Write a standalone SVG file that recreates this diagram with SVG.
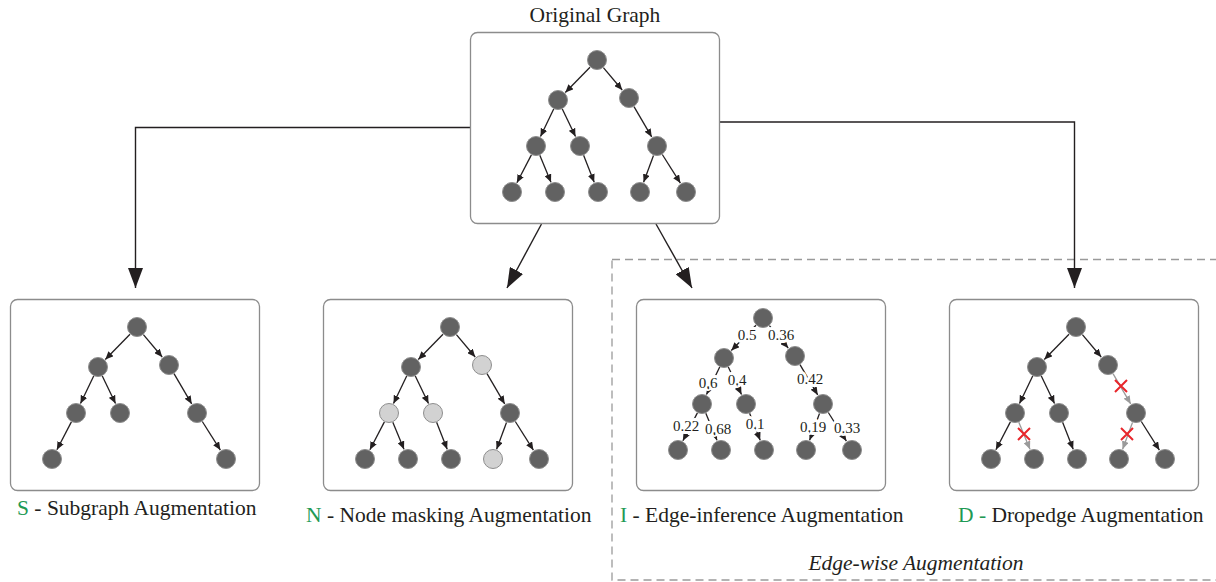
<svg xmlns="http://www.w3.org/2000/svg" width="1216" height="582" viewBox="0 0 1216 582">
<style>
.box{fill:#fff;stroke:#8c8c8c;stroke-width:1.3}
.n{fill:#626262;stroke:#8e8e8e;stroke-width:1}
.m{fill:#d2d2d2;stroke:#8e8e8e;stroke-width:1}
.e path{stroke:#231f20;stroke-width:1.3;fill:none;marker-end:url(#ah)}
.e path.g{stroke:#9a9a9a;marker-end:url(#ahg)}
.c{stroke:#231f20;stroke-width:1.4;fill:none;marker-end:url(#big)}
.x{stroke:#e8262b;stroke-width:2;fill:none}
.t{font-family:"Liberation Serif",serif;font-size:21.5px;fill:#231f20}
.gr{fill:#1f9a55}
.w{font-family:"Liberation Serif",serif;font-size:15px;fill:#231f20;stroke:#fff;stroke-width:6;paint-order:stroke;stroke-linejoin:round}
</style>
<defs>
<marker id="ah" markerUnits="userSpaceOnUse" markerWidth="9" markerHeight="7" refX="8" refY="3.5" orient="auto"><path d="M0,0 L8,3.5 L0,7 z" fill="#231f20"/></marker>
<marker id="ahg" markerUnits="userSpaceOnUse" markerWidth="9" markerHeight="7" refX="8" refY="3.5" orient="auto"><path d="M0,0 L8,3.5 L0,7 z" fill="#9a9a9a"/></marker>
<marker id="big" markerUnits="userSpaceOnUse" markerWidth="21" markerHeight="15" refX="20" refY="7.5" orient="auto"><path d="M0,0 L20,7.5 L0,15 z" fill="#231f20"/></marker>
</defs>

<rect x="612" y="259.5" width="620" height="320.5" fill="none" stroke="#9a9a9a" stroke-width="1.3" stroke-dasharray="8 5"/>
<text class="t" x="916" y="570" text-anchor="middle" font-style="italic" font-size="19.5">Edge-wise Augmentation</text>

<g id="connectors">
<polyline class="c" points="470,127.5 135.5,127.5 135.5,288"/>
<line class="c" x1="541.5" y1="224" x2="507" y2="288"/>
<line class="c" x1="656" y1="224" x2="692" y2="288"/>
<polyline class="c" points="720,122 1074.5,122 1074.5,288"/>
</g>

<g id="original">
<text class="t" x="595" y="22" text-anchor="middle">Original Graph</text>
<rect class="box" x="470.5" y="32.5" width="249" height="191" rx="7"/>
<g transform="translate(470,32)">
<g class="e">
<path d="M120,35.2L95.3,60.5"/><path d="M133.4,35.6L152.2,58"/><path d="M83.7,77L70.5,104.5"/><path d="M92.3,77L105.5,104.5"/><path d="M164,74.6L181.7,104.9"/><path d="M61.4,122.9L46.9,150.7"/><path d="M69.8,123.2L81,150.3"/><path d="M113.6,123.3L124.2,150.2"/><path d="M183.5,123.4L173.6,150.2"/><path d="M192.3,122.5L210.4,151.1"/>
</g>
<circle class="n" cx="127" cy="28" r="9.5"/><circle class="n" cx="88" cy="68" r="9.5"/><circle class="n" cx="159" cy="66" r="9.5"/>
<circle class="n" cx="66" cy="114" r="9.5"/><circle class="n" cx="110" cy="114" r="9.5"/><circle class="n" cx="187" cy="114" r="9.5"/>
<circle class="n" cx="42" cy="160" r="9.5"/><circle class="n" cx="85" cy="160" r="9.5"/><circle class="n" cx="128" cy="160" r="9.5"/><circle class="n" cx="170" cy="160" r="9.5"/><circle class="n" cx="216" cy="160" r="9.5"/>
</g>
</g>

<g id="subgraph">
<rect class="box" x="10.5" y="299.5" width="249" height="191" rx="7"/>
<g transform="translate(10,299)">
<g class="e">
<path d="M120,35.2L95.3,60.5"/><path d="M133.4,35.6L152.2,58"/><path d="M83.7,77L70.5,104.5"/><path d="M92.3,77L105.5,104.5"/><path d="M164,74.6L181.7,104.9"/><path d="M61.4,122.9L46.9,150.7"/><path d="M192.3,122.5L210.4,151.1"/>
</g>
<circle class="n" cx="127" cy="28" r="9.5"/><circle class="n" cx="88" cy="68" r="9.5"/><circle class="n" cx="159" cy="66" r="9.5"/>
<circle class="n" cx="66" cy="114" r="9.5"/><circle class="n" cx="110" cy="114" r="9.5"/><circle class="n" cx="187" cy="114" r="9.5"/>
<circle class="n" cx="42" cy="160" r="9.5"/><circle class="n" cx="216" cy="160" r="9.5"/>
</g>
<text class="t" x="17" y="515"><tspan class="gr">S</tspan> - Subgraph Augmentation</text>
</g>

<g id="nodemask">
<rect class="box" x="323.5" y="299.5" width="249" height="191" rx="7"/>
<g transform="translate(323,299)">
<g class="e">
<path d="M120,35.2L95.3,60.5"/><path d="M133.4,35.6L152.2,58"/><path d="M83.7,77L70.5,104.5"/><path d="M92.3,77L105.5,104.5"/><path d="M164,74.6L181.7,104.9"/><path d="M61.4,122.9L46.9,150.7"/><path d="M69.8,123.2L81,150.3"/><path d="M113.6,123.3L124.2,150.2"/><path d="M183.5,123.4L173.6,150.2"/><path d="M192.3,122.5L210.4,151.1"/>
</g>
<circle class="n" cx="127" cy="28" r="9.5"/><circle class="n" cx="88" cy="68" r="9.5"/><circle class="m" cx="159" cy="66" r="9.5"/>
<circle class="m" cx="66" cy="114" r="9.5"/><circle class="m" cx="110" cy="114" r="9.5"/><circle class="n" cx="187" cy="114" r="9.5"/>
<circle class="n" cx="42" cy="160" r="9.5"/><circle class="n" cx="85" cy="160" r="9.5"/><circle class="n" cx="128" cy="160" r="9.5"/><circle class="m" cx="170" cy="160" r="9.5"/><circle class="n" cx="216" cy="160" r="9.5"/>
</g>
<text class="t" x="306" y="522"><tspan class="gr">N</tspan> - Node masking Augmentation</text>
</g>

<g id="edgeinference">
<rect class="box" x="636.5" y="299.5" width="249" height="191" rx="7"/>
<g transform="translate(636,290)">
<g class="e">
<path d="M120,35.2L95.3,60.5"/><path d="M133.4,35.6L152.2,58"/><path d="M83.7,77L70.5,104.5"/><path d="M92.3,77L105.5,104.5"/><path d="M164,74.6L181.7,104.9"/><path d="M61.4,122.9L46.9,150.7"/><path d="M69.8,123.2L81,150.3"/><path d="M113.6,123.3L124.2,150.2"/><path d="M183.5,123.4L173.6,150.2"/><path d="M192.3,122.5L210.4,151.1"/>
</g>
<circle class="n" cx="127" cy="28" r="9.5"/><circle class="n" cx="88" cy="68" r="9.5"/><circle class="n" cx="159" cy="66" r="9.5"/>
<circle class="n" cx="66" cy="114" r="9.5"/><circle class="n" cx="110" cy="114" r="9.5"/><circle class="n" cx="187" cy="114" r="9.5"/>
<circle class="n" cx="42" cy="160" r="9.5"/><circle class="n" cx="85" cy="160" r="9.5"/><circle class="n" cx="128" cy="160" r="9.5"/><circle class="n" cx="170" cy="160" r="9.5"/><circle class="n" cx="216" cy="160" r="9.5"/>
</g>
<g text-anchor="middle">
<text class="w" x="747" y="340">0.5</text>
<text class="w" x="781" y="340">0.36</text>
<text class="w" x="708" y="388">0.6</text>
<text class="w" x="737" y="385">0.4</text>
<text class="w" x="810" y="384">0.42</text>
<text class="w" x="686" y="431">0.22</text>
<text class="w" x="718" y="434">0.68</text>
<text class="w" x="755" y="429">0.1</text>
<text class="w" x="813" y="432">0.19</text>
<text class="w" x="847" y="433">0.33</text>
</g>
<text class="t" x="620" y="522"><tspan class="gr">I</tspan> - Edge-inference Augmentation</text>
</g>

<g id="dropedge">
<rect class="box" x="949.5" y="299.5" width="249" height="191" rx="7"/>
<g transform="translate(949,299)">
<g class="e">
<path d="M120,35.2L95.3,60.5"/><path d="M133.4,35.6L152.2,58"/><path d="M83.7,77L70.5,104.5"/><path d="M92.3,77L105.5,104.5"/><path d="M61.4,122.9L46.9,150.7"/><path d="M113.6,123.3L124.2,150.2"/><path d="M192.3,122.5L210.4,151.1"/>
<path class="g" d="M164,74.6L181.7,104.9"/><path class="g" d="M69.8,123.2L81,150.3"/><path class="g" d="M183.5,123.4L173.6,150.2"/>
</g>
<circle class="n" cx="127" cy="28" r="9.5"/><circle class="n" cx="88" cy="68" r="9.5"/><circle class="n" cx="159" cy="66" r="9.5"/>
<circle class="n" cx="66" cy="114" r="9.5"/><circle class="n" cx="110" cy="114" r="9.5"/><circle class="n" cx="187" cy="114" r="9.5"/>
<circle class="n" cx="42" cy="160" r="9.5"/><circle class="n" cx="85" cy="160" r="9.5"/><circle class="n" cx="128" cy="160" r="9.5"/><circle class="n" cx="170" cy="160" r="9.5"/><circle class="n" cx="216" cy="160" r="9.5"/>
<path class="x" d="M166,81L178,93M178,81L166,93M69,129L81,141M81,129L69,141M172,129L184,141M184,129L172,141"/>
</g>
<text class="t" x="958" y="522"><tspan class="gr">D -</tspan> Dropedge Augmentation</text>
</g>
</svg>
